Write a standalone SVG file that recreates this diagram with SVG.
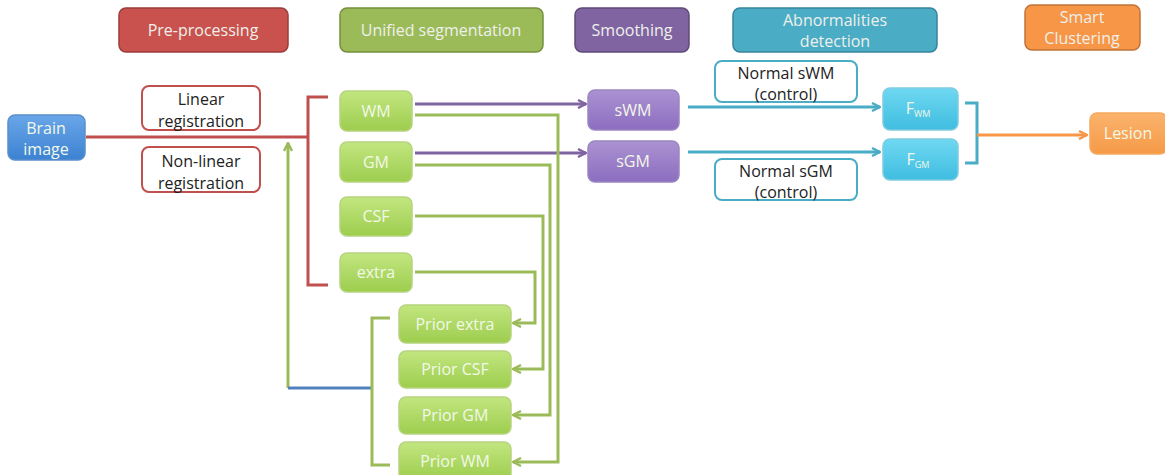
<svg xmlns="http://www.w3.org/2000/svg" width="1165" height="475" viewBox="0 0 1165 475">
<style>
text{font-family:"Open Sans","Liberation Sans",sans-serif;text-anchor:middle}
.hd{font-size:16px;fill:#eef0ea}
.nt{font-size:16px;fill:#f2f8e8}
.bt{font-size:16px;fill:#222}
.ln{fill:none;stroke-width:3}
.r{stroke:#c0504d}.g{stroke:#9bbb59}.p{stroke:#8064a2}.t{stroke:#4bacc6}.o{stroke:#f79646}.b{stroke:#4f81bd}
.gn{fill:url(#gg);stroke:#b6d47f;stroke-width:1.5}
.pn{fill:url(#pg);stroke:#9a86c0;stroke-width:1.5}
.tn{fill:url(#tg);stroke:#7fcbe0;stroke-width:1.5}
</style>
<defs>
<linearGradient id="gg" x1="0" y1="0" x2="0" y2="1"><stop offset="0" stop-color="#c2e680"/><stop offset="1" stop-color="#9dcd4e"/></linearGradient>
<linearGradient id="pg" x1="0" y1="0" x2="0" y2="1"><stop offset="0" stop-color="#ab92d2"/><stop offset="1" stop-color="#8c6dc0"/></linearGradient>
<linearGradient id="tg" x1="0" y1="0" x2="0" y2="1"><stop offset="0" stop-color="#6fd8f2"/><stop offset="1" stop-color="#3fbde0"/></linearGradient>
<linearGradient id="bg" x1="0" y1="0" x2="0" y2="1"><stop offset="0" stop-color="#6aa6e8"/><stop offset="1" stop-color="#3c82d2"/></linearGradient>
<linearGradient id="og" x1="0" y1="0" x2="0" y2="1"><stop offset="0" stop-color="#fbb36c"/><stop offset="1" stop-color="#f59a48"/></linearGradient>
<marker id="ag" viewBox="0 0 10 10" refX="9" refY="5" markerWidth="10" markerHeight="10" markerUnits="userSpaceOnUse" orient="auto"><path d="M1,1 L9,5 L1,9" fill="none" stroke="#9bbb59" stroke-width="2.4"/></marker>
<marker id="ap" viewBox="0 0 10 10" refX="9" refY="5" markerWidth="10" markerHeight="10" markerUnits="userSpaceOnUse" orient="auto"><path d="M1,1 L9,5 L1,9" fill="none" stroke="#8064a2" stroke-width="2.4"/></marker>
<marker id="at" viewBox="0 0 10 10" refX="9" refY="5" markerWidth="10" markerHeight="10" markerUnits="userSpaceOnUse" orient="auto"><path d="M1,1 L9,5 L1,9" fill="none" stroke="#4bacc6" stroke-width="2.4"/></marker>
<marker id="ao" viewBox="0 0 10 10" refX="9" refY="5" markerWidth="10" markerHeight="10" markerUnits="userSpaceOnUse" orient="auto"><path d="M1,1 L9,5 L1,9" fill="none" stroke="#f79646" stroke-width="2.4"/></marker>
</defs>
<rect width="1165" height="475" fill="#fff"/>

<!-- headers -->
<g id="hdr-pre"><rect x="119" y="8" width="169" height="44" rx="7" fill="#c9524e" stroke="#9a3d3a" stroke-width="1.5"/><text class="hd" x="203" y="36">Pre-processing</text></g>
<g id="hdr-seg"><rect x="340" y="8" width="203" height="44" rx="7" fill="#9bbb59" stroke="#76903f" stroke-width="1.5"/><text class="hd" x="441" y="36">Unified segmentation</text></g>
<g id="hdr-smooth"><rect x="575" y="8" width="114" height="44" rx="7" fill="#8064a2" stroke="#5e4a7a" stroke-width="1.5"/><text class="hd" x="632" y="36">Smoothing</text></g>
<g id="hdr-abn"><rect x="733" y="8" width="204" height="44" rx="7" fill="#4bacc6" stroke="#37849a" stroke-width="1.5"/><text class="hd" x="835" y="26">Abnormalities</text><text class="hd" x="835" y="47">detection</text></g>
<g id="hdr-clust"><rect x="1025" y="5" width="115" height="45" rx="7" fill="#f79646" stroke="#c0743a" stroke-width="1.5"/><text class="hd" x="1082" y="23">Smart</text><text class="hd" x="1082" y="44">Clustering</text></g>

<!-- connectors -->
<g id="connectors">
<path class="ln r" d="M86,137 H308 M328,97 H308 V285 H328"/>
<path class="ln g" d="M288,388 V143" marker-end="url(#ag)"/>
<path class="ln b" d="M288,388 H372"/>
<path class="ln g" d="M390,318 H372 V465 H390"/>
<path class="ln p" d="M415,104 H586" marker-end="url(#ap)"/>
<path class="ln p" d="M415,153 H586" marker-end="url(#ap)"/>
<path class="ln g" d="M415,115 H558 V462 H513" marker-end="url(#ag)"/>
<path class="ln g" d="M415,165 H550 V415 H513" marker-end="url(#ag)"/>
<path class="ln g" d="M415,216 H543 V369 H513" marker-end="url(#ag)"/>
<path class="ln g" d="M415,272 H535 V323 H513" marker-end="url(#ag)"/>
<path class="ln t" d="M688,107 H880" marker-end="url(#at)"/>
<path class="ln t" d="M688,152 H880" marker-end="url(#at)"/>
<path class="ln t" d="M965,103 H977 V163 H965"/>
<path class="ln o" d="M977,135 H1087" marker-end="url(#ao)"/>
</g>

<!-- nodes -->
<g id="brain"><rect x="8" y="115" width="77" height="45" rx="7" fill="url(#bg)" stroke="#5a8fcc" stroke-width="1.5"/><text class="nt" x="46" y="134">Brain</text><text class="nt" x="46" y="155">image</text></g>
<g id="linreg"><rect x="142" y="86" width="118" height="44" rx="7" fill="#fff" stroke="#c0504d" stroke-width="2"/><text class="bt" x="201" y="105">Linear</text><text class="bt" x="201" y="127">registration</text></g>
<g id="nonlinreg"><rect x="142" y="147" width="118" height="45" rx="7" fill="#fff" stroke="#c0504d" stroke-width="2"/><text class="bt" x="201" y="167">Non-linear</text><text class="bt" x="201" y="189">registration</text></g>

<g id="wm"><rect class="gn" x="340" y="91" width="72" height="40" rx="7"/><text class="nt" x="376" y="117">WM</text></g>
<g id="gm"><rect class="gn" x="340" y="142" width="72" height="40" rx="7"/><text class="nt" x="376" y="168">GM</text></g>
<g id="csf"><rect class="gn" x="340" y="197" width="72" height="39" rx="7"/><text class="nt" x="376" y="222">CSF</text></g>
<g id="extra"><rect class="gn" x="340" y="253" width="72" height="39" rx="7"/><text class="nt" x="376" y="278">extra</text></g>

<g id="prior-extra"><rect class="gn" x="399" y="305" width="112" height="38" rx="7"/><text class="nt" x="455" y="330">Prior extra</text></g>
<g id="prior-csf"><rect class="gn" x="399" y="351" width="112" height="37" rx="7"/><text class="nt" x="455" y="375">Prior CSF</text></g>
<g id="prior-gm"><rect class="gn" x="399" y="397" width="112" height="37" rx="7"/><text class="nt" x="455" y="421">Prior GM</text></g>
<g id="prior-wm"><rect class="gn" x="399" y="442" width="112" height="38" rx="7"/><text class="nt" x="455" y="467">Prior WM</text></g>

<g id="swm"><rect class="pn" x="588" y="90" width="91" height="40" rx="7"/><text class="nt" x="633" y="116">sWM</text></g>
<g id="sgm"><rect class="pn" x="588" y="141" width="91" height="41" rx="7"/><text class="nt" x="633" y="167">sGM</text></g>

<g id="normal-swm"><rect x="715" y="61" width="142" height="41" rx="7" fill="#fff" stroke="#4bacc6" stroke-width="2"/><text class="bt" x="786" y="79">Normal sWM</text><text class="bt" x="786" y="100">(control)</text></g>
<g id="normal-sgm"><rect x="715" y="159" width="142" height="41" rx="7" fill="#fff" stroke="#4bacc6" stroke-width="2"/><text class="bt" x="786" y="177">Normal sGM</text><text class="bt" x="786" y="198">(control)</text></g>

<g id="fwm"><rect class="tn" x="883" y="88" width="75" height="42" rx="7"/><text class="nt" x="918" y="114">F<tspan font-size="9" dy="3">WM</tspan></text></g>
<g id="fgm"><rect class="tn" x="883" y="139" width="75" height="41" rx="7"/><text class="nt" x="918" y="165">F<tspan font-size="9" dy="3">GM</tspan></text></g>

<g id="lesion"><rect x="1090" y="113" width="77" height="41" rx="7" fill="url(#og)" stroke="#f6a860" stroke-width="1.5"/><text class="nt" x="1128" y="139">Lesion</text></g>
</svg>
